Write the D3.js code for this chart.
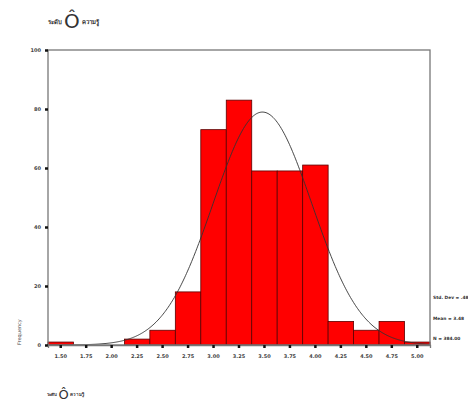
<!DOCTYPE html>
<html>
<head>
<meta charset="utf-8">
<script src="https://cdn.jsdelivr.net/npm/d3@7"></script>
<style>
  body { margin: 0; background: #fff; }
  text { font-family: "DejaVu Sans", sans-serif; fill: #333; }
</style>
</head>
<body>
<div id="chart"></div>
<script>
// Histogram bins (bar centers) and frequencies
const binLabels = ["1.50", "1.75", "2.00", "2.25", "2.50", "2.75", "3.00", "3.25",
                   "3.50", "3.75", "4.00", "4.25", "4.50", "4.75", "5.00"];
const frequencies = [1, 0, 0, 2, 5, 18, 73, 83, 59, 59, 61, 8, 5, 8, 1];
const yTicks = [0, 20, 40, 60, 80, 100];
const stats = { mean: 3.48, sd: 0.485, n: 384 };
const statLabels = ["Std. Dev = .48", "Mean = 3.48", "N = 384.00"];

const width = 468;
const height = 403;
const margin = { top: 50, right: 38, bottom: 58, left: 48 };
const binWidth = 0.25;

const svg = d3.select("#chart")
    .append("svg")
    .attr("width", width)
    .attr("height", height);

const xScale = d3.scaleBand()
    .domain(binLabels)
    .range([margin.left, width - margin.right])
    .padding(0);

// continuous scale for the fitted curve, aligned with band centers
const first = +binLabels[0];
const last = +binLabels[binLabels.length - 1];
const xLin = d3.scaleLinear()
    .domain([first - binWidth / 2, last + binWidth / 2])
    .range([margin.left, width - margin.right]);

const yScale = d3.scaleLinear()
    .domain([0, 100])
    .range([height - margin.bottom, margin.top]);

// Bars
svg.selectAll(".bar")
    .data(frequencies)
    .enter()
    .append("rect")
    .attr("class", "bar")
    .attr("x", (_, i) => xScale(binLabels[i]))
    .attr("y", d => yScale(d))
    .attr("width", xScale.bandwidth())
    .attr("height", d => yScale(0) - yScale(d))
    .attr("fill", "#ff0000")
    .attr("stroke", "#5a0000")
    .attr("stroke-width", 0.8);

// Normal curve
const curvePts = d3.range(first - binWidth / 2, last + binWidth / 2 + 0.001, 0.01).map(v => {
    const z = (v - stats.mean) / stats.sd;
    const f = stats.n * binWidth / (stats.sd * Math.sqrt(2 * Math.PI)) * Math.exp(-0.5 * z * z);
    return [v, f];
});
svg.append("path")
    .datum(curvePts)
    .attr("fill", "none")
    .attr("stroke", "#333")
    .attr("stroke-width", 0.9)
    .attr("d", d3.line().x(d => xLin(d[0])).y(d => yScale(d[1])));

// Frame
svg.append("rect")
    .attr("x", margin.left)
    .attr("y", margin.top)
    .attr("width", width - margin.left - margin.right)
    .attr("height", height - margin.top - margin.bottom)
    .attr("fill", "none")
    .attr("stroke", "#777")
    .attr("stroke-width", 1.3);

// Y axis
const yAxis = svg.append("g")
    .attr("transform", `translate(${margin.left}, 0)`)
    .call(d3.axisLeft(yScale).tickValues(yTicks).tickSize(3).tickPadding(4));
yAxis.select(".domain").remove();
yAxis.selectAll("line").attr("stroke", "#111").attr("stroke-width", 2.5);
yAxis.selectAll("text").style("font-size", "5px").style("font-weight", "bold").style("fill", "#444");

// X axis
const xAxis = svg.append("g")
    .attr("transform", `translate(0, ${height - margin.bottom})`)
    .call(d3.axisBottom(xScale).tickSize(3).tickPadding(6));
xAxis.select(".domain").attr("stroke", "#777").attr("stroke-width", 1.3);
xAxis.selectAll("line").attr("stroke", "#111").attr("stroke-width", 2.5);
xAxis.selectAll("text").style("font-size", "5px").style("font-weight", "bold").style("fill", "#444");

// Y axis title
svg.append("text")
    .attr("transform", `translate(21, ${height - margin.bottom}) rotate(-90)`)
    .attr("text-anchor", "start")
    .style("font-size", "5px")
    .style("fill", "#444")
    .text("Frequency");

// Stats
svg.selectAll(".stat")
    .data(statLabels)
    .enter()
    .append("text")
    .attr("class", "stat")
    .attr("x", width - margin.right + 3)
    .attr("y", (_, i) => 299 + i * 20.5)
    .style("font-size", "4.4px")
    .style("font-weight", "bold")
    .text(d => d);

// Title (top) and x label (bottom)
const title = svg.append("text")
    .attr("x", 48)
    .attr("y", 24)
    .style("font-size", "6px")
    .style("font-weight", "bold");
title.append("tspan").text("ระดับ ");
title.append("tspan").style("font-size", "20px").style("font-weight", "normal").attr("dy", 4).text("Ô");
title.append("tspan").attr("dy", -4).text(" ความรู้");

const xTitle = svg.append("text")
    .attr("x", 47)
    .attr("y", 396)
    .style("font-size", "4.5px")
    .style("font-weight", "bold");
xTitle.append("tspan").text("ระดับ ");
xTitle.append("tspan").style("font-size", "13px").style("font-weight", "normal").attr("dy", 3).text("Ô");
xTitle.append("tspan").attr("dy", -3).text(" ความรู้");
</script>
</body>
</html>
